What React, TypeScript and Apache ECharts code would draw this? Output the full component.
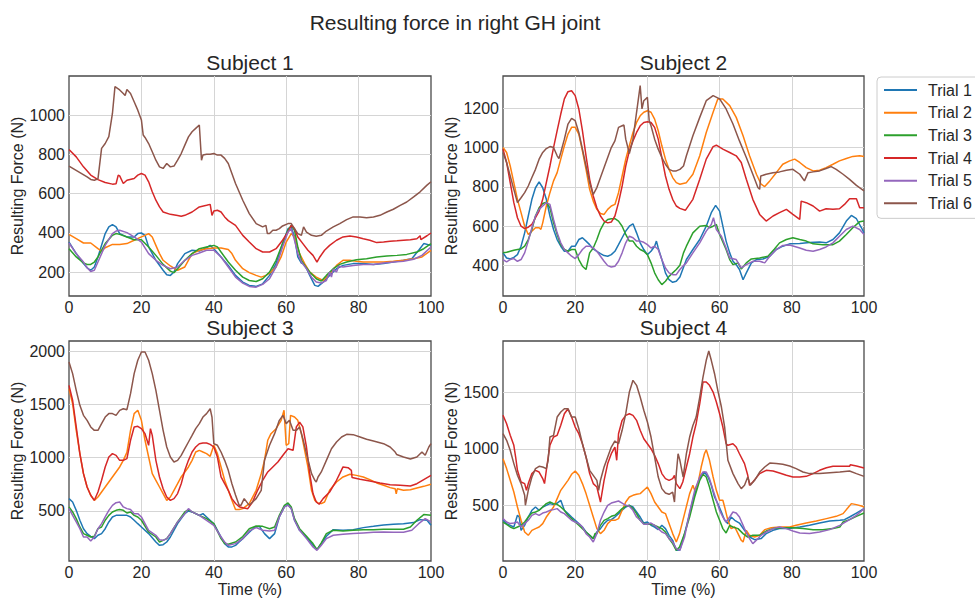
import React, { useEffect, useRef } from "react";
import * as echarts from "echarts";

// ---------- labels ----------
const MAIN_TITLE = "Resulting force in right GH joint";
const SUBJECTS = ["Subject 1", "Subject 2", "Subject 3", "Subject 4"];
const TRIALS = ["Trial 1", "Trial 2", "Trial 3", "Trial 4", "Trial 5", "Trial 6"];
const Y_NAME = "Resulting Force (N)";
const X_NAME = "Time (%)";

// ---------- tick labels ----------
const X_TICK_LABELS = [0, 20, 40, 60, 80, 100];
const X_GRID_TICKS = [20, 40, 60, 80];
const Y_TICKS_S1 = [200, 400, 600, 800, 1000];
const Y_TICKS_S2 = [400, 600, 800, 1000, 1200];
const Y_TICKS_S3 = [500, 1000, 1500, 2000];
const Y_TICKS_S4 = [500, 1000, 1500];
const Y_LIMITS_S1 = [78, 1199];
const Y_LIMITS_S2 = [243, 1365];
const Y_LIMITS_S3 = [31, 2094];
const Y_LIMITS_S4 = [13, 1949];

// ---------- data: [time %, force N] ----------
const s1Trial1 = [[0,353],[2,294],[4,243],[5,222],[6,209],[7,226],[8,277],[10,396],[11,430],[12,442],[13,430],[14,396],[16,379],[18,379],[19,396],[20,399],[21,387],[22,328],[24,260],[26,209],[27,186],[28,183],[29,200],[30,243],[32,294],[34,311],[36,307],[38,324],[39,336],[40,319],[42,277],[44,234],[46,183],[48,149],[49.8,132],[51.7,127],[53.5,140],[55.4,183],[57.2,243],[59,345],[60.5,421],[61.4,430],[62.3,379],[63.2,277],[64.2,246],[65.1,239],[66.5,183],[67.9,132],[68.8,127],[70.2,149],[72,183],[73.9,217],[75.7,234],[78.5,243],[81.3,243],[84.1,239],[86.9,243],[89.6,251],[92.4,260],[94.7,268],[96.6,311],[98,345],[100,336]];
const s1Trial2 = [[0,392],[2,370],[4,348],[6,348],[8,319],[9,307],[10,324],[12,341],[14,341],[16,345],[18,362],[20,379],[21,387],[22,396],[23,379],[24,336],[25,294],[26,260],[28,231],[30,209],[32,226],[34,294],[36,311],[38,319],[40,323],[42,323],[44,315],[45,294],[46,260],[48,217],[49.8,197],[51.7,183],[53.1,174],[54.4,183],[55.8,200],[57.2,226],[58.6,277],[60,353],[61.4,396],[62.3,379],[63.7,294],[65.1,243],[66.5,200],[68.3,174],[70.2,157],[72,191],[73.9,234],[75.7,260],[77.6,260],[79.4,255],[81.3,251],[84.1,251],[86.9,251],[89.6,255],[92.4,260],[95.2,268],[97.5,277],[100,311]];
const s1Trial3 = [[0,319],[2,277],[4,246],[5,239],[6,239],[7,251],[8,277],[10,345],[12,387],[13,396],[14,392],[16,379],[18,365],[20,365],[22,328],[24,285],[26,239],[28,205],[29,197],[30,217],[32,260],[34,294],[36,319],[38,328],[40,336],[41,328],[42,302],[44,251],[46,209],[48,174],[49.8,157],[51.7,152],[53.5,166],[55.4,200],[57.2,260],[59,345],[60.5,413],[61.4,438],[62.3,413],[63.2,328],[64.2,260],[65.1,234],[66.5,200],[68.3,166],[69.7,154],[71.1,183],[73,217],[74.8,239],[76.7,251],[79.4,263],[82.2,268],[85,277],[87.8,282],[90.6,285],[93.3,290],[96.1,302],[98,319],[100,345]];
const s1Trial4 = [[0,825],[2,787],[4,736],[6,694],[8,671],[10,656],[12,648],[13,650],[13.6,694],[14,690],[15,651],[16,668],[18,677],[19,694],[20,702],[21,694],[22,660],[23,609],[24,566],[25,532],[26,506],[28,494],[30,488],[31,484],[32,489],[34,506],[36,532],[38,540],[39,545],[39.5,489],[40,511],[41,515],[42,506],[43,481],[44,462],[46,438],[48,387],[49.8,353],[51.7,319],[53.5,302],[55.4,302],[57.2,319],[59,362],[60.5,404],[61.4,438],[62.3,421],[63.2,379],[64.6,345],[66,311],[67.4,285],[68.5,251],[69.3,277],[70.6,311],[72,336],[73.9,362],[75.7,379],[77.6,384],[79.4,379],[81.3,370],[83.1,362],[85,350],[86.9,353],[88.7,357],[90.6,359],[92.4,362],[94.3,365],[96.1,370],[97,385],[97.2,365],[98.9,385],[100,399]];
const s1Trial5 = [[0,348],[2,294],[4,251],[5,222],[6,203],[7,209],[8,251],[10,336],[12,396],[13,409],[14,413],[16,401],[18,379],[20,353],[22,294],[24,260],[26,234],[28,217],[30,226],[32,260],[34,285],[36,297],[38,311],[40,311],[42,277],[44,226],[46,174],[48,144],[49.8,127],[51.7,123],[53.5,137],[55.4,166],[57.2,226],[59,328],[60.5,404],[61.4,421],[62.3,362],[63.2,294],[64.2,251],[65.6,217],[67,174],[68.3,149],[69.7,144],[71.1,157],[72,200],[72.5,175],[73,215],[73.9,200],[74.5,230],[75.7,226],[78.5,234],[81.3,239],[84.1,239],[86.9,246],[89.6,251],[92.4,255],[95.2,265],[97.5,285],[100,328]];
const s1Trial6 = [[0,740],[5,685],[6,672],[7,668],[8,675],[9,830],[10,855],[11,890],[12,1008],[12.7,1145],[14,1128],[15,1110],[15.5,1100],[16,1130],[17,1110],[18,1068],[19,1025],[20,975],[20.5,898],[21,886],[22,855],[23,813],[24,770],[25,736],[26,728],[27,753],[28,736],[29,740],[30,770],[31,804],[32,847],[33,889],[34,915],[35,932],[36,949],[36.6,770],[37,796],[38,800],[39,800],[40,804],[41,796],[42,796],[43,779],[44,753],[45,702],[46,651],[48,566],[49.8,498],[51.7,447],[53.5,430],[54.4,438],[54.8,396],[55.4,396],[56.3,413],[57.2,413],[58.1,421],[59,435],[60.5,447],[61.4,447],[62.3,421],[63.2,396],[64.2,387],[64.8,430],[65.6,404],[67,387],[68.3,382],[69.7,387],[71.1,409],[73,430],[74.8,447],[76.7,467],[78.5,481],[80.4,481],[82.2,477],[84.1,481],[85.9,489],[87.8,506],[89.6,520],[91.5,540],[93.3,557],[95.2,583],[97,609],[98.9,643],[100,660]];

const s2Trial1 = [[0,463],[1,437],[2,432],[3,440],[4,454],[5,497],[6,565],[7,651],[8,736],[9,795],[10,825],[11,795],[12,736],[13,651],[14,582],[15,531],[16,497],[17,471],[18,471],[19,497],[20,497],[21,531],[22,540],[23,523],[24,505],[25,483],[26,471],[27,459],[28,449],[29,446],[30,454],[31,471],[32,505],[33,540],[34,574],[35,599],[36,611],[37,565],[38,514],[39,480],[40,454],[41,471],[42,497],[42.5,523],[43,488],[44,429],[45,361],[46,326],[47,313],[48,318],[49,340],[50.8,429],[52.6,480],[54.5,531],[56.3,599],[57.7,668],[58.9,705],[60,676],[60.9,599],[61.8,523],[62.8,463],[63.7,420],[64.6,403],[65.5,378],[66.5,326],[67.4,361],[68.8,412],[70.2,429],[72,432],[73.9,446],[75.7,480],[77.5,497],[79.4,509],[82.2,511],[84.9,516],[87.7,518],[89.5,514],[91.4,531],[93.2,565],[95.1,625],[96.5,654],[97.9,637],[99.3,591],[100,565]];
const s2Trial2 = [[0,1000],[1,975],[2,906],[3,821],[4,736],[5,668],[6,599],[7,557],[8,574],[9,591],[10,591],[10.5,583],[11,616],[12,702],[13,770],[14,830],[15,872],[16,941],[17,1009],[18,1069],[19,1103],[20,1103],[21,1069],[22,983],[23,889],[24,787],[25,727],[26,685],[27,664],[28,659],[29,685],[30,702],[31,710],[32,770],[33,855],[34,941],[35,1009],[36,1077],[37,1128],[38,1162],[39,1180],[40,1188],[41,1180],[42,1145],[43,1086],[44,1009],[45,941],[46,889],[47,847],[48,821],[49,813],[50.8,821],[52.6,864],[54.5,958],[56.3,1077],[58.2,1180],[59.5,1248],[60.9,1248],[62.8,1214],[64.6,1154],[66.5,1060],[68.3,958],[70.2,864],[71.5,813],[72.5,801],[73.9,830],[75.7,872],[77.5,915],[79.4,932],[80.8,941],[82.2,924],[84,898],[85.9,881],[87.7,884],[89.5,898],[91.4,915],[93.2,932],[95.1,944],[96.9,955],[98.8,958],[100,955]];
const s2Trial3 = [[0,463],[1,466],[2,471],[3,476],[4,480],[5,483],[6,497],[7,531],[8,582],[9,651],[10,693],[11,715],[12,722],[13,693],[14,616],[15,557],[16,505],[17,480],[18,471],[19,480],[20,480],[21,429],[22,395],[23,378],[24,463],[25,488],[26,531],[27,582],[28,616],[29,633],[30,637],[31,637],[32,625],[33,599],[34,557],[35,523],[36,523],[37,497],[38,480],[39,471],[40,454],[41,412],[42,361],[43,326],[44,301],[45,318],[46,343],[47,361],[48,378],[49,400],[50,463],[50.8,497],[52.6,565],[54.5,599],[56.3,603],[57.2,591],[58.2,599],[59.1,608],[60,557],[61.8,480],[62.8,429],[63.7,403],[65.1,412],[66,381],[67.4,412],[68.8,432],[71.1,437],[73.4,446],[75.2,483],[76.6,514],[78.5,531],[80.3,540],[82.2,531],[84,523],[85.9,509],[88.6,505],[91.4,505],[93.2,523],[95.1,557],[96.9,591],[98.8,622],[100,625]];
const s2Trial4 = [[0,992],[1,924],[2,821],[3,719],[4,642],[5,599],[6,587],[7,594],[8,608],[9,642],[10,676],[11,736],[12,821],[13,906],[14,1000],[15,1086],[16,1171],[17,1248],[18,1285],[19,1290],[20,1265],[21,1197],[22,1086],[23,958],[24,838],[25,753],[26,693],[27,651],[28,625],[29,616],[30,620],[31,651],[32,719],[33,804],[34,906],[35,983],[36,1034],[37,1077],[38,1111],[39,1128],[40,1132],[41,1128],[42,1103],[43,1043],[44,949],[45,855],[46,787],[47,736],[48,702],[49,690],[50.5,680],[52.6,736],[54.5,838],[56.3,941],[58.2,1005],[59.1,1012],[60.9,992],[62.8,975],[64.6,958],[66,924],[67.4,838],[69.2,736],[71.1,659],[72.9,625],[74.8,651],[76.6,668],[78.5,685],[80.3,659],[82.2,634],[82.6,727],[84,719],[85.9,702],[87.7,676],[89.5,688],[91.4,685],[93.2,688],[94.6,710],[96,739],[97.9,739],[98.8,693],[100,693]];
const s2Trial5 = [[0,429],[1,417],[2,429],[3,434],[4,420],[5,429],[6,463],[7,523],[8,591],[9,651],[10,685],[11,702],[12,719],[13,710],[14,633],[15,565],[16,514],[17,480],[18,463],[19,446],[20,434],[21,454],[22,480],[23,497],[24,497],[25,488],[26,471],[27,446],[28,420],[29,398],[30,391],[31,395],[32,420],[33,463],[34,514],[35,548],[36,540],[37,523],[38,523],[39,517],[40,505],[41,488],[42,497],[43,480],[44,429],[45,386],[46,361],[47,352],[48,352],[49,378],[50,398],[50.8,412],[52.6,463],[54.5,514],[56.3,574],[57.7,608],[58.3,642],[59.1,582],[60.5,548],[61.8,488],[62.8,437],[64.6,429],[66,386],[67.4,403],[69.2,420],[71.1,420],[72.5,412],[73.9,446],[75.7,480],[77.5,501],[79.4,503],[82.2,488],[84,476],[85.9,471],[87.7,480],[89.5,493],[91.4,514],[93.2,548],[95.1,582],[96.9,599],[98.8,582],[100,557]];
const s2Trial6 = [[0,975],[1,924],[2,855],[3,787],[4,719],[5,744],[6,770],[7,804],[8,847],[9,889],[10,941],[11,975],[12,995],[13,1005],[14,1000],[15,958],[15.5,944],[16,975],[17,1043],[18,1120],[19,1149],[20,1137],[21,1077],[22,992],[23,906],[24,821],[25,761],[26,796],[27,847],[28,898],[29,949],[30,1000],[31,1034],[32,1103],[33,1111],[33.5,1115],[34,1043],[35,970],[36,1043],[37,1180],[38,1316],[38.5,1197],[39,1239],[40,1256],[40.5,1137],[41,1111],[42,1043],[43,992],[44,949],[45,915],[46,889],[47,881],[48,881],[49,889],[50,906],[50.8,958],[52.6,1060],[54.5,1154],[56.3,1239],[58.2,1265],[60,1248],[61.8,1197],[63.7,1120],[65.5,1034],[67.4,949],[69.2,864],[70.6,796],[71.1,787],[71.4,855],[72.9,864],[74.8,872],[76.6,876],[78.5,884],[80.3,889],[82.2,864],[83.5,830],[84.5,872],[85.9,876],[87.7,881],[89.5,893],[90.9,903],[92.3,889],[94.2,864],[96,838],[97.9,807],[100,779]];

const s3Trial1 = [[0,616],[1,584],[2,506],[3,413],[4,334],[5,288],[6,263],[7,241],[8,272],[9,288],[10,334],[11,397],[12,444],[13,459],[14,459],[15,459],[16,459],[17,444],[18,413],[19,381],[20,350],[22,288],[24,209],[25,178],[26,184],[27,209],[28,256],[30,381],[32,475],[33,500],[34,491],[35,475],[36,459],[37,475],[38,444],[40,381],[42,256],[43,194],[44,163],[45,163],[46,178],[47,209],[48,241],[49.8,300],[51.2,345],[52.6,356],[54,288],[55.4,241],[56.8,288],[58.1,444],[59.5,538],[60.5,559],[61.4,522],[62.3,413],[63.7,319],[65.6,256],[67.4,178],[68.5,138],[69.7,194],[71.1,263],[73,325],[75.7,319],[78.5,325],[81.3,344],[84.1,356],[86.9,369],[89.6,375],[92.4,381],[95.2,391],[97,419],[98.9,413],[100,366]];
const s3Trial2 = [[0,1647],[1,1506],[2,1256],[3,1038],[4,850],[5,725],[6,647],[7,600],[8,631],[9,678],[10,725],[11,772],[12,819],[13,866],[14,913],[15,975],[16,1050],[17,1256],[18,1413],[19,1444],[20,1350],[21,1163],[22,1006],[23,850],[24,788],[25,725],[26,663],[27,600],[28,631],[29,694],[30,756],[31,819],[32,866],[33,913],[34,975],[35,1053],[36,1069],[37,1053],[38,1038],[39,1013],[40,1116],[41,1038],[42,913],[43,788],[44,694],[45,600],[46,513],[47,513],[48,522],[49.8,569],[51.7,694],[53.1,850],[54,975],[54.9,1163],[55.8,1225],[57.2,1272],[58.6,1350],[59.4,1444],[60,1116],[60.7,1131],[61.2,1397],[62.3,1381],[63.2,1350],[64.2,1225],[65.1,1069],[66,913],[67,694],[67.9,600],[68.8,575],[69.7,569],[70.6,584],[72,694],[73.9,772],[75.7,819],[77.6,844],[79.4,834],[81.3,819],[83.1,794],[85,763],[86.9,741],[88.7,719],[90.1,709],[90.4,660],[90.7,709],[92.4,694],[94.3,700],[96.1,716],[98,731],[100,750]];
const s3Trial3 = [[0,538],[1,491],[2,428],[3,350],[4,288],[5,272],[6,256],[7,263],[8,334],[9,350],[10,413],[11,459],[12,491],[13,506],[14,513],[15,506],[16,481],[17,491],[18,459],[19,444],[20,413],[22,303],[24,256],[25,209],[26,225],[27,241],[28,288],[30,397],[32,491],[33,513],[34,491],[35,475],[36,459],[38,428],[40,381],[42,241],[43,194],[44,188],[46,209],[48,260],[49.8,334],[51.7,359],[53.5,356],[55.4,334],[56.8,350],[58.1,459],[59.5,553],[60.5,575],[61.4,538],[62.3,428],[63.7,334],[65.6,263],[67.4,194],[68.5,138],[69.7,200],[71.1,288],[73,319],[75.7,313],[78.5,319],[81.3,325],[84.1,325],[86.9,328],[89.6,328],[92.4,328],[94.3,350],[96.1,413],[98,466],[100,459]];
const s3Trial4 = [[0,1678],[1,1538],[2,1288],[3,1038],[4,850],[5,725],[6,647],[7,600],[8,678],[9,788],[10,913],[11,1006],[12,1038],[13,1022],[14,975],[15,975],[16,991],[17,1163],[18,1288],[19,1294],[20,1272],[21,1225],[22,1116],[22.5,1272],[23,1209],[24,975],[25,819],[26,709],[27,631],[28,600],[29,616],[30,663],[31,756],[32,881],[33,975],[34,1053],[35,1100],[36,1131],[37,1138],[38,1138],[39,1125],[40,1100],[41,1006],[42,819],[43,756],[44,694],[45,616],[46,570],[47,540],[48,530],[49.4,522],[50.7,584],[52.1,694],[53.5,788],[54.9,866],[56.3,913],[57.7,959],[59.1,1022],[60.5,1084],[61.9,1069],[62.8,1288],[63.7,1334],[64.6,1288],[65.6,1100],[66.5,850],[67.4,663],[68.3,584],[69.1,563],[70.2,616],[72,678],[73.9,788],[74.8,850],[75.7,913],[77.1,906],[78,881],[78.2,813],[80.4,797],[83.1,781],[85.9,763],[88.7,747],[91.5,741],[94.3,734],[96.1,756],[98,794],[100,834]];
const s3Trial5 = [[0,522],[1,459],[2,397],[3,334],[4,256],[5,256],[6,219],[7,256],[8,334],[9,381],[10,444],[11,506],[12,553],[13,578],[14,584],[15,538],[16,522],[17,513],[18,475],[19,475],[20,444],[22,319],[24,272],[25,231],[26,225],[27,241],[28,288],[30,397],[32,475],[33,522],[34,491],[36,459],[38,413],[40,366],[42,256],[43,209],[44,178],[46,194],[48,240],[49.8,313],[51.7,344],[53.5,319],[55.4,313],[56.8,319],[58.1,444],[59.5,538],[60.5,553],[61.4,522],[62.3,413],[63.7,319],[65.6,241],[67.4,163],[68.5,131],[69.7,178],[71.1,241],[73,272],[75.7,281],[78.5,288],[81.3,294],[84.1,300],[86.9,303],[89.6,300],[92.4,300],[94.7,319],[96.6,381],[98.4,428],[100,397]];
const s3Trial6 = [[0,1897],[1,1788],[2,1631],[3,1491],[4,1397],[5,1350],[6,1288],[7,1256],[8,1256],[9,1319],[10,1381],[11,1413],[12,1413],[13,1397],[14,1444],[15,1459],[16,1450],[17,1600],[18,1788],[19,1913],[20,1991],[21,1991],[22,1913],[23,1788],[24,1631],[25,1444],[26,1256],[27,1100],[28,1006],[29,959],[30,975],[31,1022],[32,1084],[33,1147],[34,1209],[35,1272],[36,1319],[37,1381],[38,1413],[39,1459],[39.5,1381],[40,1131],[41,1116],[42,1053],[43,975],[44,881],[45,756],[46,650],[47,553],[47.5,553],[48.4,616],[49.8,553],[51.7,616],[53.1,694],[54,975],[55.4,1116],[56.8,1225],[58.1,1350],[59.1,1397],[60,1319],[60.9,1350],[61.9,1256],[62.8,1256],[63.7,1288],[64.6,1178],[65.6,1038],[67,850],[67.9,788],[68.3,772],[68.8,819],[69.7,866],[71.1,975],[72.5,1084],[73.9,1147],[75.3,1194],[76.7,1219],[78.5,1216],[80.4,1194],[82.2,1172],[84.1,1156],[86.9,1131],[88.7,1100],[90.1,1053],[90.5,1030],[92.4,1006],[94.3,988],[96.1,1006],[97.5,1053],[98.4,1022],[99.4,1100],[100,1131]];

const s4Trial1 = [[0,371],[1,342],[2,327],[3,312],[4,415],[4.5,400],[5,283],[6,327],[7,400],[8,459],[9,488],[10,459],[11,488],[12,503],[13,518],[14,509],[15,523],[16,547],[17,459],[18,430],[19,400],[20,371],[21,342],[22,312],[23,268],[24,239],[25,210],[26,268],[27,298],[28,342],[29,371],[30,377],[31,400],[32,430],[33,459],[34,488],[35,503],[36,488],[37,444],[38,400],[39,347],[40,356],[41,327],[42,312],[43,289],[44,327],[45,298],[46,239],[47,195],[48,107],[49,110],[50.3,254],[51.7,430],[52.6,547],[54,694],[54.9,767],[55.8,796],[56.8,752],[57.7,679],[58.6,576],[59.5,518],[60.5,444],[61.4,371],[62.3,342],[63.2,400],[64.2,371],[65.5,347],[66.9,283],[68.3,224],[69.7,201],[71.5,210],[72.9,254],[74.8,283],[76.6,298],[79.4,298],[82.2,312],[84.9,327],[87.7,347],[90.5,365],[93.3,371],[94.6,377],[96,400],[97.9,435],[100,474]];
const s4Trial2 = [[0,913],[1,826],[2,723],[3,620],[4,488],[5,371],[6,268],[7,239],[8,283],[9,298],[10,312],[11,342],[12,400],[13,444],[14,488],[15,562],[16,635],[17,679],[18,723],[19,776],[20,805],[21,767],[22,694],[23,606],[24,503],[25,400],[26,298],[27,254],[28,283],[29,342],[30,371],[31,371],[32,386],[33,459],[34,532],[35,576],[36,591],[37,600],[38,606],[39,635],[40,664],[41,606],[42,532],[43,488],[44,444],[45,430],[46,342],[47,254],[48,180],[48.9,254],[50.3,430],[51.7,606],[52.6,679],[53.1,635],[54,694],[54.9,840],[55.8,957],[56.3,992],[57.2,899],[58.2,752],[59.1,635],[60,547],[60.9,547],[61.4,488],[62.3,371],[63.2,298],[64.2,312],[65.1,254],[66,195],[66.5,180],[67.4,283],[68.3,239],[69.7,224],[71.1,239],[72.5,289],[74.3,306],[76.6,312],[79.4,312],[81.2,327],[84,347],[86.8,365],[89.6,386],[92.3,406],[94.2,430],[95.6,483],[96.5,518],[97.9,509],[99.3,497],[100,488]];
const s4Trial3 = [[0,356],[1,336],[2,312],[3,298],[4,312],[5,327],[6,356],[7,400],[8,435],[9,444],[10,459],[11,488],[12,518],[13,532],[14,518],[15,512],[16,488],[17,459],[18,415],[19,386],[20,356],[21,327],[22,298],[23,268],[24,239],[25,210],[25.5,254],[26,254],[27,327],[28,371],[29,386],[30,406],[31,415],[32,444],[33,474],[34,494],[35,503],[36,474],[37,430],[38,371],[39,342],[40,336],[41,336],[42,327],[43,312],[44,298],[45,268],[46,210],[47,166],[48,107],[48.9,136],[50.3,254],[51.7,400],[53.1,576],[54.5,723],[55.4,776],[56.3,752],[57.2,664],[58.2,547],[59.1,444],[60,371],[60.9,298],[61.8,260],[62.8,327],[63.7,312],[65.1,298],[66.5,254],[67.8,224],[69.2,239],[71.1,239],[72.9,277],[74.8,298],[77.5,306],[80.3,306],[83.1,298],[85.9,289],[88.6,289],[91.4,298],[93.3,312],[94.2,356],[96,377],[97.9,406],[100,435]];
const s4Trial4 = [[0,1295],[1,1221],[2,1119],[3,1031],[3.5,928],[4,811],[5,708],[6,694],[6.5,635],[7,694],[8,782],[9,811],[10,796],[11,738],[11.5,694],[12,811],[13,1031],[14,1104],[15,1119],[16,1207],[17,1309],[18,1353],[19,1280],[20,1192],[21,1133],[22,1045],[23,928],[24,782],[25,694],[26,664],[27,532],[28,723],[29,870],[30,957],[31,1016],[31.5,899],[32,1133],[33,1251],[34,1295],[35,1309],[36,1295],[37,1251],[38,1163],[39,1089],[40,1045],[41,1001],[42,943],[43,870],[44,782],[45,738],[46,723],[47,738],[47.5,767],[48,694],[49,650],[49.8,708],[50.8,840],[51.7,957],[52.6,1104],[53.5,1221],[54.5,1397],[55.4,1588],[56.3,1588],[57.2,1559],[58.2,1500],[59.1,1412],[60,1309],[60.9,1192],[61.8,1045],[62.3,1031],[63.7,1045],[64.6,1016],[65.5,957],[66.9,870],[67.8,767],[68.3,679],[69.2,708],[71.1,782],[72.9,811],[74.8,805],[76.6,787],[78.5,767],[80.3,752],[82.2,752],[84,758],[85.9,782],[87.7,811],[89.6,834],[91.4,846],[94.2,846],[96,846],[96.2,860],[97.9,849],[100,831]];
const s4Trial5 = [[0,386],[1,356],[2,342],[3,347],[4,356],[5,312],[6,342],[7,371],[8,415],[9,430],[10,415],[11,435],[12,444],[13,459],[14,465],[15,474],[16,444],[17,430],[18,400],[19,371],[20,356],[21,342],[22,312],[23,254],[24,224],[25,180],[26,254],[27,371],[28,444],[29,503],[30,523],[31,532],[32,541],[33,523],[34,503],[35,494],[36,459],[37,400],[38,371],[39,336],[40,336],[41,347],[42,327],[43,298],[44,268],[45,254],[46,210],[47,180],[48,122],[49,107],[50.3,224],[51.7,444],[53.1,635],[54.5,752],[55.4,796],[56.3,796],[57.2,738],[58.2,635],[59.1,547],[60,459],[60.9,400],[61.8,356],[62.8,400],[63.7,444],[64.6,435],[65.5,400],[66.9,298],[68.3,210],[69.2,166],[70.2,195],[71.5,239],[72.9,268],[74.8,298],[76.6,312],[78.5,298],[80.3,277],[82.2,260],[84.9,254],[87.7,268],[90.5,289],[93.3,327],[96,377],[97.9,415],[100,474]];
const s4Trial6 = [[0,1133],[1,1075],[2,987],[3,870],[4,767],[5,694],[6,591],[6.2,503],[7,635],[8,752],[9,826],[10,846],[11,840],[12,826],[12.5,899],[13,1104],[14,1119],[15,1280],[16,1324],[17,1353],[18,1353],[19,1280],[20,1280],[21,1177],[22,1045],[23,928],[24,811],[25,767],[26,723],[26.5,635],[27,723],[28,840],[29,928],[30,1016],[31,1069],[32,1045],[33,1163],[34,1309],[35,1500],[36,1603],[37,1559],[38,1456],[39,1339],[40,1236],[41,1104],[42,928],[43,752],[44,650],[45,611],[46,600],[47,620],[47.5,532],[48,782],[48.5,957],[49,899],[49.9,752],[50.8,957],[51.7,1104],[52.6,1206],[53.5,1280],[54.5,1456],[55.4,1632],[56.3,1779],[57,1861],[57.7,1779],[58.6,1661],[59.5,1515],[60.5,1368],[61.4,1192],[62.3,899],[63.7,782],[65.1,694],[66,650],[66.9,679],[67.8,752],[68.5,679],[69.7,723],[71.1,796],[72.5,840],[73.9,875],[75.7,870],[77.5,864],[79.4,849],[81.2,826],[83.1,796],[84.9,782],[87.7,782],[90.5,790],[93.3,796],[96,805],[97.9,782],[100,758]];

const SUBJECT_DATA = [
  [s1Trial1, s1Trial2, s1Trial3, s1Trial4, s1Trial5, s1Trial6],
  [s2Trial1, s2Trial2, s2Trial3, s2Trial4, s2Trial5, s2Trial6],
  [s3Trial1, s3Trial2, s3Trial3, s3Trial4, s3Trial5, s3Trial6],
  [s4Trial1, s4Trial2, s4Trial3, s4Trial4, s4Trial5, s4Trial6],
];
const Y_TICKS = [Y_TICKS_S1, Y_TICKS_S2, Y_TICKS_S3, Y_TICKS_S4];
const Y_LIMITS = [Y_LIMITS_S1, Y_LIMITS_S2, Y_LIMITS_S3, Y_LIMITS_S4];

// ---------- style ----------
const COLORS = ["#1f77b4", "#ff7f0e", "#2ca02c", "#d62728", "#9467bd", "#8c564b"];
const FONT = "'Liberation Sans', Arial, Helvetica, sans-serif";
const TEXT = "#262626";
const GRID_BOXES = [
  { left: 69, top: 76, width: 362, height: 220 },
  { left: 503, top: 76, width: 361, height: 220 },
  { left: 69, top: 341, width: 362, height: 220 },
  { left: 503, top: 341, width: 361, height: 220 },
];

const plainNumber = (v: number) => String(v);

function buildOption() {
  const grid = GRID_BOXES.map((b) => ({
    ...b,
    show: true,
    borderColor: "#4a4a4a",
    borderWidth: 1.3,
    backgroundColor: "#ffffff",
    containLabel: false,
  }));
  const xAxis = GRID_BOXES.map((_, i) => ({
    type: "value",
    gridIndex: i,
    min: 0,
    max: 100,
    name: i >= 2 ? X_NAME : "",
    nameLocation: "middle",
    nameGap: 20,
    nameTextStyle: { fontSize: 16, color: TEXT, fontFamily: FONT },
    axisLine: { show: false },
    axisTick: { show: false, customValues: X_GRID_TICKS },
    axisLabel: { customValues: X_TICK_LABELS, formatter: plainNumber, fontSize: 16, color: TEXT, fontFamily: FONT, margin: 3 },
    splitLine: { show: true, lineStyle: { color: "#d5d5d5", width: 1 } },
  }));
  const yAxis = GRID_BOXES.map((_, i) => ({
    type: "value",
    gridIndex: i,
    min: Y_LIMITS[i][0],
    max: Y_LIMITS[i][1],
    name: Y_NAME,
    nameLocation: "middle",
    nameGap: 37,
    nameTextStyle: { fontSize: 16, color: TEXT, fontFamily: FONT },
    axisLine: { show: false },
    axisTick: { show: false, customValues: Y_TICKS[i] },
    axisLabel: { customValues: Y_TICKS[i], formatter: plainNumber, fontSize: 16, color: TEXT, fontFamily: FONT, margin: 4 },
    splitLine: { show: true, lineStyle: { color: "#d5d5d5", width: 1 } },
  }));
  const series: any[] = [];
  SUBJECT_DATA.forEach((trials, i) => {
    trials.forEach((data, j) => {
      series.push({
        type: "line",
        name: TRIALS[j],
        xAxisIndex: i,
        yAxisIndex: i,
        data,
        symbol: "none",
        showSymbol: false,
        smooth: false,
        color: COLORS[j],
        lineStyle: { color: COLORS[j], width: 1.5 },
        itemStyle: { color: COLORS[j] },
        emphasis: { disabled: true },
        z: 3,
      });
    });
  });
  const graphic: any[] = [
    {
      type: "text",
      x: 455,
      y: 22,
      style: { text: MAIN_TITLE, fontSize: 21, fontFamily: FONT, fill: TEXT, align: "center", verticalAlign: "middle" },
    },
  ];
  SUBJECTS.forEach((s, i) => {
    const b = GRID_BOXES[i];
    graphic.push({
      type: "text",
      x: b.left + b.width / 2,
      y: b.top - 13.5,
      style: { text: s, fontSize: 21, fontFamily: FONT, fill: TEXT, align: "center", verticalAlign: "middle" },
    });
  });
  return {
    animation: false,
    backgroundColor: "#ffffff",
    textStyle: { fontFamily: FONT },
    grid,
    xAxis,
    yAxis,
    series,
    graphic,
    legend: {
      data: TRIALS,
      orient: "vertical",
      left: 877,
      top: 77,
      icon: "rect",
      itemWidth: 33,
      itemHeight: 2,
      itemGap: 6.67,
      padding: [5, 20, 7, 7],
      borderColor: "#cccccc",
      borderWidth: 1,
      borderRadius: 4,
      backgroundColor: "#ffffff",
      selectedMode: false,
      textStyle: { fontSize: 16, color: TEXT, fontFamily: FONT, lineHeight: 16, padding: [0, 0, 0, 6] },
    },
  };
}

export default function App() {
  const ref = useRef<HTMLDivElement>(null);
  useEffect(() => {
    if (!ref.current) return;
    const chart = echarts.init(ref.current, undefined, { renderer: "svg" });
    chart.setOption(buildOption() as any);
    return () => chart.dispose();
  }, []);
  return (
    <div
      ref={ref}
      style={{ position: "fixed", left: 0, top: 0, width: 975, height: 599, background: "#fff" }}
    />
  );
}
